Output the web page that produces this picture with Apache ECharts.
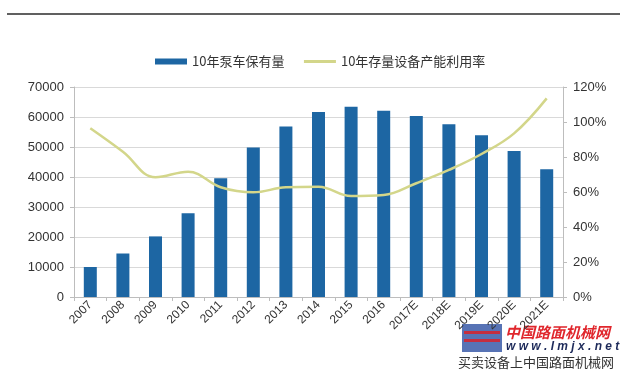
<!DOCTYPE html>
<html>
<head>
<meta charset="utf-8">
<script src="https://cdn.jsdelivr.net/npm/echarts@6/dist/echarts.min.js"></script>
<style>html,body{margin:0;padding:0;background:#fff}#c{width:620px;height:371px}</style>
</head>
<body>
<div id="c"></div>
<script>
const categories = ['2007','2008','2009','2010','2011','2012','2013','2014','2015','2016','2017E','2018E','2019E','2020E','2021E'];
const pumpTrucks = [10000,14500,20200,27900,39600,49800,56800,61700,63400,62100,60300,57600,53900,48700,42600];
const utilization = [0.964,0.83,0.684,0.716,0.627,0.598,0.627,0.63,0.577,0.583,0.65,0.726,0.817,0.935,1.135];
const leftTicks = {min:0, max:70000, interval:10000};
const rightTicks = {min:0, max:1.2, interval:0.2};
const seriesNames = ['10年泵车保有量','10年存量设备产能利用率'];

const chart = echarts.init(document.getElementById('c'), null, {renderer:'canvas'});
const font = 'Liberation Sans, Arial, sans-serif';
chart.setOption({
  animation:false,
  backgroundColor:'#fff',
  textStyle:{fontFamily:font},
  legend:{
    top:50, left:150, itemGap:18, itemWidth:32, itemHeight:6,
    textStyle:{fontFamily:'Noto Sans CJK SC', fontSize:13, color:'#333'},
    data:[{name:seriesNames[0], icon:'rect'},{name:seriesNames[1], itemStyle:{opacity:0}, lineStyle:{width:3, color:'#d3d68a'}}]
  },
  grid:{left:74, right:57, top:87, bottom:74},
  xAxis:{
    type:'category', data:categories, boundaryGap:true,
    axisLine:{lineStyle:{color:'#bdbdbd'}},
    axisTick:{show:true, interval:0, length:4, lineStyle:{color:'#bdbdbd'}},
    axisLabel:{rotate:45, interval:0, fontSize:12, color:'#333', fontFamily:font, margin:6}
  },
  yAxis:[
    {type:'value', min:leftTicks.min, max:leftTicks.max, interval:leftTicks.interval,
     axisLine:{show:true, lineStyle:{color:'#bdbdbd'}},
     axisTick:{show:true, length:4, lineStyle:{color:'#bdbdbd'}},
     axisLabel:{fontSize:13, color:'#333', margin:10, formatter:v=>String(v)},
     splitLine:{lineStyle:{color:'#d9d9d9'}}},
    {type:'value', min:rightTicks.min, max:rightTicks.max, interval:rightTicks.interval,
     axisLine:{show:true, lineStyle:{color:'#bdbdbd'}},
     axisTick:{show:true, length:4, lineStyle:{color:'#bdbdbd'}},
     axisLabel:{fontSize:13, color:'#333', margin:10, formatter:v=>Math.round(v*100)+'%'},
     splitLine:{show:false}}
  ],
  series:[
    {name:seriesNames[0], type:'bar', data:pumpTrucks, barWidth:13, itemStyle:{color:'#1d66a3'}},
    {name:seriesNames[1], type:'line', yAxisIndex:1, data:utilization, smooth:0.4, symbol:'none',
     lineStyle:{color:'#d3d68a', width:2.5}, itemStyle:{color:'#d3d68a'}}
  ],
  graphic:[
    {type:'line', shape:{x1:7,y1:14,x2:620,y2:14}, style:{stroke:'#2b2b2b', lineWidth:1.5}},
    {type:'rect', shape:{x:462,y:324,width:40,height:28}, style:{fill:'#3a5aa8', opacity:0.85}},
    {type:'rect', shape:{x:464,y:331,width:36,height:3}, style:{fill:'#d8222a', opacity:0.85}},
    {type:'rect', shape:{x:464,y:339,width:36,height:3}, style:{fill:'#d8222a', opacity:0.85}},
    {type:'text', x:505, y:332, style:{text:'中国路面机械网', fill:'#e0262c', font:'italic bold 15px "Noto Sans CJK SC"', textVerticalAlign:'middle'}},
    {type:'text', x:506, y:347, style:{text:'w w w . l m j x . n e t', fill:'#1d2a5a', font:'italic bold 12px Liberation Sans', textVerticalAlign:'middle'}},
    {type:'text', x:458, y:362, style:{text:'买卖设备上中国路面机械网', fill:'#333', font:'13px "Noto Sans CJK SC"', textVerticalAlign:'middle'}}
  ]
});
</script>
</body>
</html>
